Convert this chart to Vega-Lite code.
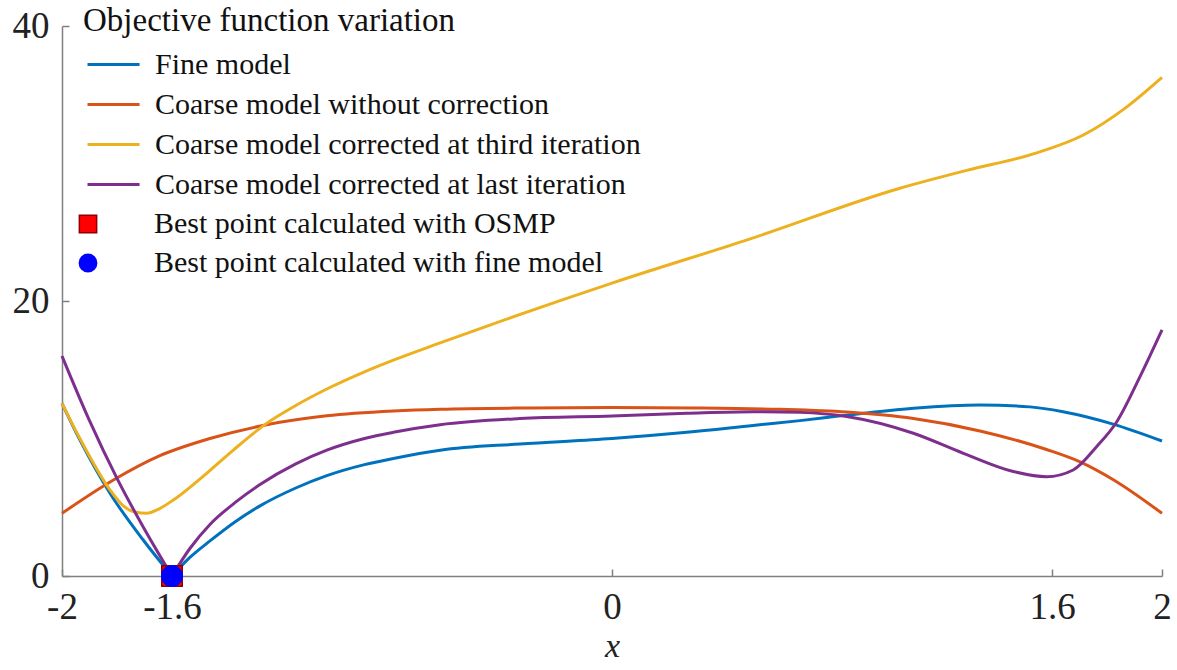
{
  "$schema": "https://vega.github.io/schema/vega-lite/v6.json",
  "width": 1100,
  "height": 550,
  "autosize": {"type": "none"},
  "padding": {"left": 62, "top": 26, "right": 15, "bottom": 94},
  "background": "white",
  "config": {
    "view": {"stroke": null},
    "font": "Liberation Serif",
    "axis": {
      "grid": false,
      "domainColor": "#808080",
      "domainWidth": 1.5,
      "tickColor": "#808080",
      "tickWidth": 1.5,
      "tickSize": -7,
      "labelFont": "Liberation Serif",
      "labelFontSize": 37,
      "labelColor": "#222222",
      "titleFont": "Liberation Serif",
      "titleColor": "#222222"
    },
    "legend": {
      "labelFont": "Liberation Serif",
      "titleFont": "Liberation Serif",
      "labelColor": "#111111",
      "titleColor": "#111111",
      "padding": 0
    }
  },
  "datasets": {
    "curves": [
      {"series": "Fine model", "branch": "L", "x": -2.0, "y": 12.56},
      {"series": "Fine model", "branch": "L", "x": -1.935, "y": 9.9},
      {"series": "Fine model", "branch": "L", "x": -1.825, "y": 6.0},
      {"series": "Fine model", "branch": "L", "x": -1.704, "y": 2.6},
      {"series": "Fine model", "branch": "L", "x": -1.6, "y": 0.0},
      {"series": "Fine model", "branch": "R", "x": -1.6, "y": 0.0},
      {"series": "Fine model", "branch": "R", "x": -1.535, "y": 1.35},
      {"series": "Fine model", "branch": "R", "x": -1.462, "y": 2.55},
      {"series": "Fine model", "branch": "R", "x": -1.37, "y": 3.95},
      {"series": "Fine model", "branch": "R", "x": -1.28, "y": 5.1},
      {"series": "Fine model", "branch": "R", "x": -1.15, "y": 6.4},
      {"series": "Fine model", "branch": "R", "x": -1.037, "y": 7.3},
      {"series": "Fine model", "branch": "R", "x": -0.9, "y": 8.1},
      {"series": "Fine model", "branch": "R", "x": -0.795, "y": 8.55},
      {"series": "Fine model", "branch": "R", "x": -0.625, "y": 9.15},
      {"series": "Fine model", "branch": "R", "x": -0.335, "y": 9.6},
      {"series": "Fine model", "branch": "R", "x": 0.0, "y": 10.0},
      {"series": "Fine model", "branch": "R", "x": 0.272, "y": 10.45},
      {"series": "Fine model", "branch": "R", "x": 0.513, "y": 10.95},
      {"series": "Fine model", "branch": "R", "x": 0.684, "y": 11.3},
      {"series": "Fine model", "branch": "R", "x": 0.853, "y": 11.7},
      {"series": "Fine model", "branch": "R", "x": 1.096, "y": 12.2},
      {"series": "Fine model", "branch": "R", "x": 1.338, "y": 12.44},
      {"series": "Fine model", "branch": "R", "x": 1.52, "y": 12.3},
      {"series": "Fine model", "branch": "R", "x": 1.64, "y": 11.95},
      {"series": "Fine model", "branch": "R", "x": 1.822, "y": 11.05},
      {"series": "Fine model", "branch": "R", "x": 2.0, "y": 9.82},
      {"series": "Coarse model without correction", "branch": "L", "x": -2.0, "y": 4.56},
      {"series": "Coarse model without correction", "branch": "L", "x": -1.813, "y": 6.98},
      {"series": "Coarse model without correction", "branch": "L", "x": -1.644, "y": 8.75},
      {"series": "Coarse model without correction", "branch": "L", "x": -1.462, "y": 10.0},
      {"series": "Coarse model without correction", "branch": "L", "x": -1.256, "y": 11.0},
      {"series": "Coarse model without correction", "branch": "L", "x": -1.037, "y": 11.65},
      {"series": "Coarse model without correction", "branch": "L", "x": -0.795, "y": 12.0},
      {"series": "Coarse model without correction", "branch": "L", "x": -0.625, "y": 12.13},
      {"series": "Coarse model without correction", "branch": "L", "x": -0.3, "y": 12.22},
      {"series": "Coarse model without correction", "branch": "L", "x": 0.0, "y": 12.25},
      {"series": "Coarse model without correction", "branch": "L", "x": 0.3, "y": 12.22},
      {"series": "Coarse model without correction", "branch": "L", "x": 0.611, "y": 12.12},
      {"series": "Coarse model without correction", "branch": "L", "x": 0.853, "y": 11.92},
      {"series": "Coarse model without correction", "branch": "L", "x": 1.096, "y": 11.45},
      {"series": "Coarse model without correction", "branch": "L", "x": 1.338, "y": 10.55},
      {"series": "Coarse model without correction", "branch": "L", "x": 1.58, "y": 9.2},
      {"series": "Coarse model without correction", "branch": "L", "x": 1.702, "y": 8.3},
      {"series": "Coarse model without correction", "branch": "L", "x": 1.823, "y": 7.0},
      {"series": "Coarse model without correction", "branch": "L", "x": 2.0, "y": 4.56},
      {"series": "Coarse model corrected at third iteration", "branch": "L", "x": -2.0, "y": 12.56},
      {"series": "Coarse model corrected at third iteration", "branch": "L", "x": -1.935, "y": 10.0},
      {"series": "Coarse model corrected at third iteration", "branch": "L", "x": -1.825, "y": 6.25},
      {"series": "Coarse model corrected at third iteration", "branch": "L", "x": -1.777, "y": 5.1},
      {"series": "Coarse model corrected at third iteration", "branch": "L", "x": -1.735, "y": 4.65},
      {"series": "Coarse model corrected at third iteration", "branch": "L", "x": -1.692, "y": 4.56},
      {"series": "Coarse model corrected at third iteration", "branch": "L", "x": -1.65, "y": 4.85},
      {"series": "Coarse model corrected at third iteration", "branch": "L", "x": -1.595, "y": 5.53},
      {"series": "Coarse model corrected at third iteration", "branch": "L", "x": -1.474, "y": 7.47},
      {"series": "Coarse model corrected at third iteration", "branch": "L", "x": -1.377, "y": 9.16},
      {"series": "Coarse model corrected at third iteration", "branch": "L", "x": -1.256, "y": 11.1},
      {"series": "Coarse model corrected at third iteration", "branch": "L", "x": -1.15, "y": 12.4},
      {"series": "Coarse model corrected at third iteration", "branch": "L", "x": -1.037, "y": 13.6},
      {"series": "Coarse model corrected at third iteration", "branch": "L", "x": -0.9, "y": 14.85},
      {"series": "Coarse model corrected at third iteration", "branch": "L", "x": -0.795, "y": 15.7},
      {"series": "Coarse model corrected at third iteration", "branch": "L", "x": -0.625, "y": 16.95},
      {"series": "Coarse model corrected at third iteration", "branch": "L", "x": -0.444, "y": 18.25},
      {"series": "Coarse model corrected at third iteration", "branch": "L", "x": 0.0, "y": 21.3},
      {"series": "Coarse model corrected at third iteration", "branch": "L", "x": 0.5, "y": 24.5},
      {"series": "Coarse model corrected at third iteration", "branch": "L", "x": 1.047, "y": 28.2},
      {"series": "Coarse model corrected at third iteration", "branch": "L", "x": 1.29, "y": 29.5},
      {"series": "Coarse model corrected at third iteration", "branch": "L", "x": 1.532, "y": 30.7},
      {"series": "Coarse model corrected at third iteration", "branch": "L", "x": 1.714, "y": 32.07},
      {"series": "Coarse model corrected at third iteration", "branch": "L", "x": 1.871, "y": 34.1},
      {"series": "Coarse model corrected at third iteration", "branch": "L", "x": 2.0, "y": 36.26},
      {"series": "Coarse model corrected at last iteration", "branch": "L", "x": -2.0, "y": 16.0},
      {"series": "Coarse model corrected at last iteration", "branch": "L", "x": -1.9, "y": 11.3},
      {"series": "Coarse model corrected at last iteration", "branch": "L", "x": -1.8, "y": 7.1},
      {"series": "Coarse model corrected at last iteration", "branch": "L", "x": -1.7, "y": 3.4},
      {"series": "Coarse model corrected at last iteration", "branch": "L", "x": -1.6, "y": 0.0},
      {"series": "Coarse model corrected at last iteration", "branch": "R", "x": -1.6, "y": 0.0},
      {"series": "Coarse model corrected at last iteration", "branch": "R", "x": -1.535, "y": 2.0},
      {"series": "Coarse model corrected at last iteration", "branch": "R", "x": -1.462, "y": 3.75},
      {"series": "Coarse model corrected at last iteration", "branch": "R", "x": -1.37, "y": 5.35},
      {"series": "Coarse model corrected at last iteration", "branch": "R", "x": -1.28, "y": 6.65},
      {"series": "Coarse model corrected at last iteration", "branch": "R", "x": -1.15, "y": 8.15},
      {"series": "Coarse model corrected at last iteration", "branch": "R", "x": -1.037, "y": 9.15},
      {"series": "Coarse model corrected at last iteration", "branch": "R", "x": -0.9, "y": 10.0},
      {"series": "Coarse model corrected at last iteration", "branch": "R", "x": -0.795, "y": 10.45},
      {"series": "Coarse model corrected at last iteration", "branch": "R", "x": -0.625, "y": 11.0},
      {"series": "Coarse model corrected at last iteration", "branch": "R", "x": -0.335, "y": 11.45},
      {"series": "Coarse model corrected at last iteration", "branch": "R", "x": 0.0, "y": 11.64},
      {"series": "Coarse model corrected at last iteration", "branch": "R", "x": 0.272, "y": 11.83},
      {"series": "Coarse model corrected at last iteration", "branch": "R", "x": 0.514, "y": 11.95},
      {"series": "Coarse model corrected at last iteration", "branch": "R", "x": 0.684, "y": 11.9},
      {"series": "Coarse model corrected at last iteration", "branch": "R", "x": 0.853, "y": 11.6},
      {"series": "Coarse model corrected at last iteration", "branch": "R", "x": 1.096, "y": 10.38},
      {"series": "Coarse model corrected at last iteration", "branch": "R", "x": 1.278, "y": 8.92},
      {"series": "Coarse model corrected at last iteration", "branch": "R", "x": 1.459, "y": 7.6},
      {"series": "Coarse model corrected at last iteration", "branch": "R", "x": 1.58, "y": 7.22},
      {"series": "Coarse model corrected at last iteration", "branch": "R", "x": 1.677, "y": 7.71},
      {"series": "Coarse model corrected at last iteration", "branch": "R", "x": 1.762, "y": 9.4},
      {"series": "Coarse model corrected at last iteration", "branch": "R", "x": 1.835, "y": 11.2},
      {"series": "Coarse model corrected at last iteration", "branch": "R", "x": 1.92, "y": 14.5},
      {"series": "Coarse model corrected at last iteration", "branch": "R", "x": 2.0, "y": 17.9}
    ],
    "best": [
      {"marker": "Best point calculated with OSMP", "x": -1.6, "y": 0},
      {"marker": "Best point calculated with fine model", "x": -1.6, "y": 0}
    ]
  },
  "layer": [
    {
      "data": {"name": "curves"},
      "mark": {"type": "line", "strokeWidth": 3, "interpolate": "monotone"},
      "encoding": {
        "x": {
          "field": "x", "type": "quantitative",
          "scale": {"domain": [-2, 2], "nice": false, "zero": false},
          "axis": {"values": [-2, -1.6, 0, 1.6, 2], "labelExpr": "toString(datum.value)", "title": "x", "titleFontStyle": "italic", "titleFontWeight": "normal", "titleFontSize": 34, "titlePadding": 4, "labelPadding": 20, "labelFlush": false}
        },
        "y": {
          "field": "y", "type": "quantitative",
          "scale": {"domain": [0, 40], "nice": false},
          "axis": {"values": [0, 20, 40], "title": null, "labelPadding": 20}
        },
        "detail": {"field": "branch", "type": "nominal"},
        "color": {
          "field": "series", "type": "nominal",
          "scale": {
            "domain": ["Fine model", "Coarse model without correction", "Coarse model corrected at third iteration", "Coarse model corrected at last iteration"],
            "range": ["#0072BD", "#D95319", "#EDB120", "#7E2F8E"]
          },
          "legend": {
            "title": "Objective function variation",
            "orient": "none",
            "legendX": 21,
            "legendY": -21,
            "titleFontSize": 33,
            "titleFontWeight": "normal",
            "titleLimit": 1000,
            "titlePadding": 10,
            "labelFontSize": 30,
            "labelOffset": 39,
            "labelLimit": 1000,
            "symbolType": "M-0.8,0H2.67",
            "symbolSize": 900,
            "symbolStrokeWidth": 3,
            "rowPadding": 8
          }
        }
      }
    },
    {
      "data": {"name": "best"},
      "mark": {"type": "point", "filled": true, "opacity": 1, "strokeWidth": 1.5},
      "encoding": {
        "x": {"field": "x", "type": "quantitative"},
        "y": {"field": "y", "type": "quantitative"},
        "shape": {
          "field": "marker", "type": "nominal",
          "scale": {"domain": ["Best point calculated with OSMP", "Best point calculated with fine model"], "range": ["square", "circle"]},
          "legend": {"title": null, "orient": "none", "legendX": 11, "legendY": 183, "labelFontSize": 30, "labelOffset": 51, "labelLimit": 1000, "symbolSize": 300, "rowPadding": 9}
        },
        "fill": {
          "field": "marker", "type": "nominal",
          "scale": {"domain": ["Best point calculated with OSMP", "Best point calculated with fine model"], "range": ["#FF0000", "#0000FF"]},
          "legend": {"title": null, "orient": "none", "legendX": 11, "legendY": 183, "labelFontSize": 30, "labelOffset": 51, "labelLimit": 1000, "symbolSize": 300, "rowPadding": 9}
        },
        "stroke": {
          "field": "marker", "type": "nominal",
          "scale": {"domain": ["Best point calculated with OSMP", "Best point calculated with fine model"], "range": ["#8B0000", "#0000FF"]},
          "legend": {"title": null, "orient": "none", "legendX": 11, "legendY": 183, "labelFontSize": 30, "labelOffset": 51, "labelLimit": 1000, "symbolSize": 300, "rowPadding": 9}
        },
        "size": {"value": 420}
      }
    }
  ]
}
